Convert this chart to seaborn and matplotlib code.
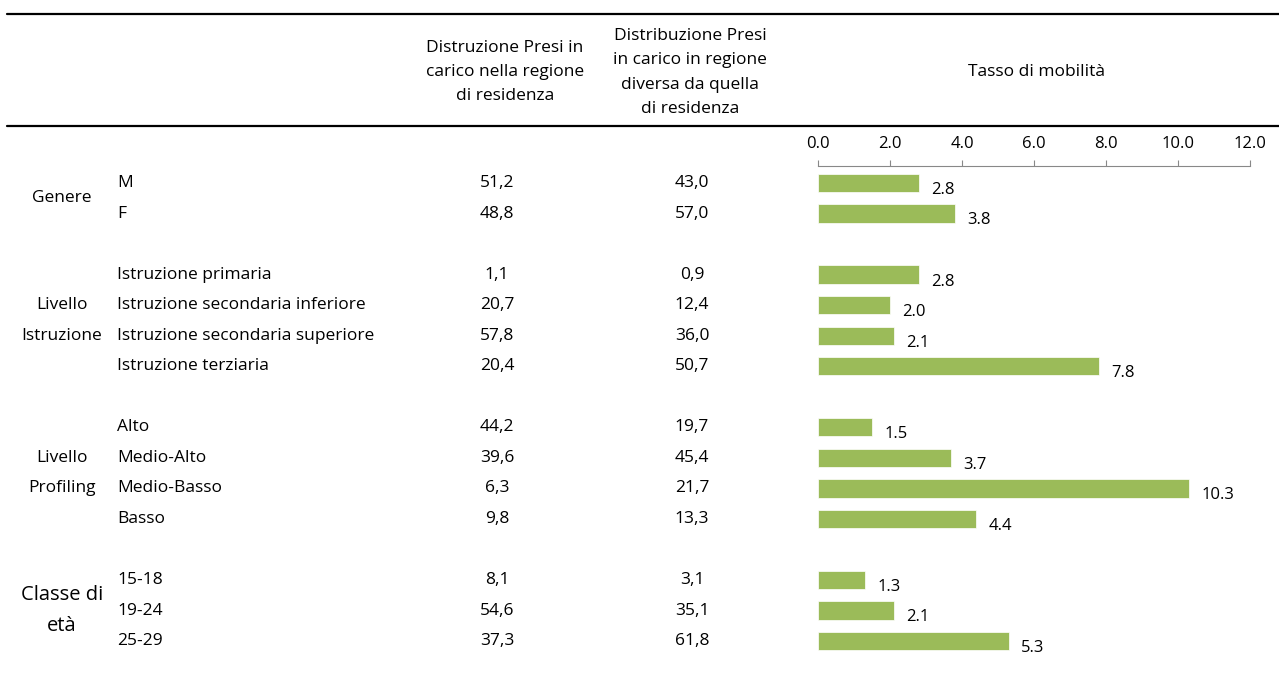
import numpy as np
import pandas as pd
import matplotlib.pyplot as plt
import matplotlib.transforms as mtransforms
import seaborn as sns

# Data
groups = ["Genere", "Livello\nIstruzione", "Livello\nProfiling", "Classe di\netà"]
categories = [
    ["M", "F"],
    ["Istruzione primaria", "Istruzione secondaria inferiore",
     "Istruzione secondaria superiore", "Istruzione terziaria"],
    ["Alto", "Medio-Alto", "Medio-Basso", "Basso"],
    ["15-18", "19-24", "25-29"],
]
dist_residenza = ["51,2", "48,8", "1,1", "20,7", "57,8", "20,4",
                  "44,2", "39,6", "6,3", "9,8", "8,1", "54,6", "37,3"]
dist_altra = ["43,0", "57,0", "0,9", "12,4", "36,0", "50,7",
              "19,7", "45,4", "21,7", "13,3", "3,1", "35,1", "61,8"]
tasso = [2.8, 3.8, 2.8, 2.0, 2.1, 7.8, 1.5, 3.7, 10.3, 4.4, 1.3, 2.1, 5.3]

header1 = "Distruzione Presi in\ncarico nella regione\ndi residenza"
header2 = "Distribuzione Presi\nin carico in regione\ndiversa da quella\ndi residenza"
header3 = "Tasso di mobilità"

# Row positions: one row per category, an empty row between groups
rows, labels, group_rows = [], [], []
pos = 0
for cats in categories:
    group_rows.append((pos, pos + len(cats) - 1))
    for c in cats:
        rows.append(pos)
        labels.append(c)
        pos += 1
    pos += 1

df = pd.DataFrame({"row": rows, "label": labels, "tasso": tasso,
                   "res": dist_residenza, "altra": dist_altra})

sns.set_style("white")
plt.rcParams['font.family'] = ['Open Sans', 'DejaVu Sans']
plt.rcParams['font.size'] = 12.5
plt.rcParams['text.color'] = 'black'
plt.rcParams['xtick.color'] = 'black'

fig = plt.figure(figsize=(12.79, 6.82), dpi=100)
W, H = 1279, 682

# bar axes aligned with the table rows
ax = fig.add_axes([818 / W, 0, (1250 - 818) / W, 1 - 166 / H])
sns.barplot(data=df, x="tasso", y="row", orient="h", native_scale=True,
            color="#9BBB59", saturation=1, width=0.6, edgecolor="white",
            linewidth=0.5, ax=ax)
ax.set_xlim(0, 12)
ax.set_ylim(16.34, -0.557)
ax.set_xticks(np.arange(0, 12.1, 2))
ax.set_xticklabels([f"{v:.1f}" for v in np.arange(0, 12.1, 2)])
ax.xaxis.tick_top()
ax.tick_params(axis="x", direction="out", length=4, color="#888888",
               labelcolor="black", width=0.8, pad=6, labelsize=12)
ax.set_yticks([])
ax.set_xlabel("")
ax.set_ylabel("")
for s in ["left", "right", "bottom"]:
    ax.spines[s].set_visible(False)
ax.spines["top"].set_color("#888888")
ax.spines["top"].set_linewidth(0.8)

for r, v in zip(df["row"], df["tasso"]):
    ax.annotate(f"{v:.1f}", xy=(v, r), xytext=(9, -5), textcoords="offset points",
                ha="left", va="center", fontsize=12)

# table text: figure x, data y
tr = mtransforms.blended_transform_factory(fig.transFigure, ax.transData)
for r, lab, a, b in zip(df["row"], df["label"], df["res"], df["altra"]):
    ax.text(117 / W, r, lab, transform=tr, ha="left", va="center", clip_on=False)
    ax.text(497 / W, r, a, transform=tr, ha="center", va="center", clip_on=False)
    ax.text(692 / W, r, b, transform=tr, ha="center", va="center", clip_on=False)

# group labels, one line per row
for g, (r0, r1) in zip(groups, group_rows):
    parts = g.split("\n")
    mid = (r0 + r1) / 2
    size = 14.5 if g.startswith("Classe") else 12.5
    for i, p in enumerate(parts):
        y = mid + (i - (len(parts) - 1) / 2)
        ax.text(62 / W, y, p, transform=tr, ha="center", va="center",
                fontsize=size, clip_on=False)

# headers
fig.text(505 / W, 1 - 72 / H, header1, ha="center", va="center", linespacing=1.7)
fig.text(690 / W, 1 - 72.5 / H, header2, ha="center", va="center", linespacing=1.7)
fig.text(1037 / W, 1 - 72 / H, header3, ha="center", va="center")

# horizontal rules
for y in [14, 126]:
    fig.add_artist(plt.Line2D([7 / W, 1], [1 - y / H, 1 - y / H], color="black",
                              linewidth=1.6, transform=fig.transFigure))

fig.savefig("out.png", dpi=100)
